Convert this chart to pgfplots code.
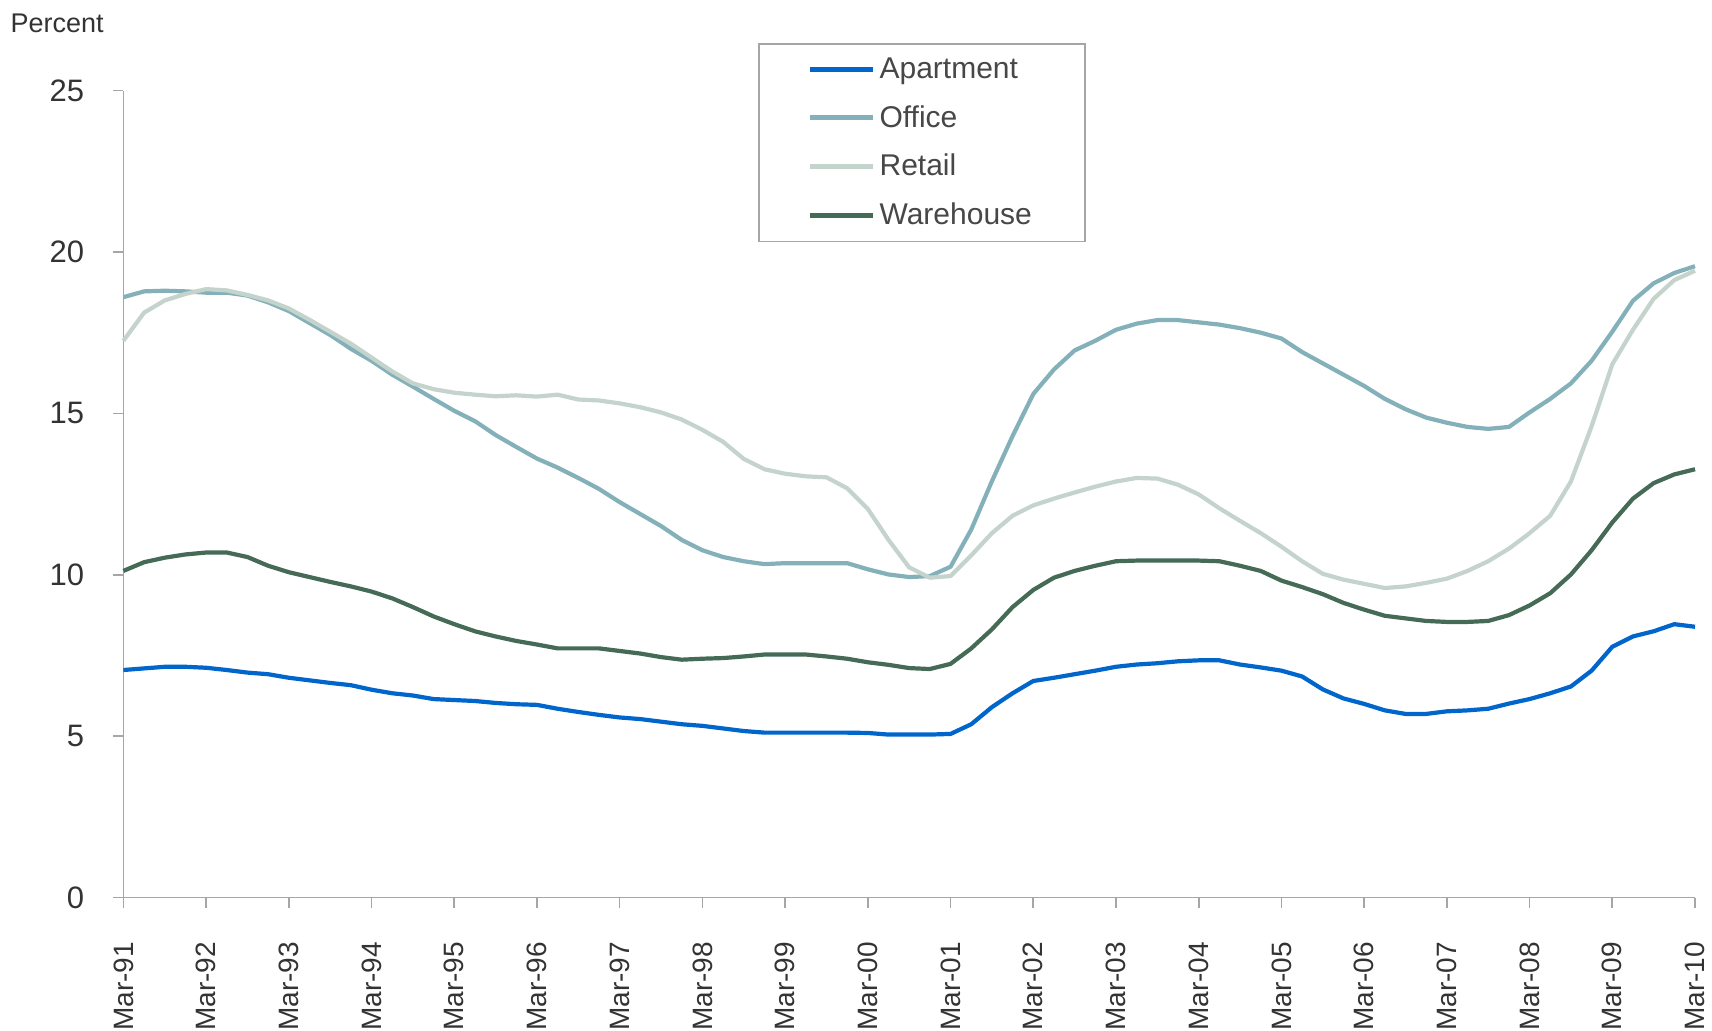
\documentclass[border=0pt]{standalone}
\usepackage{pgfplots}
\pgfplotsset{compat=1.18}
\usepackage{fontspec}
\setmainfont{Liberation Sans}
\newfontfamily\xlabfont{Liberation Sans}
\definecolor{cApt}{HTML}{0066CC}
\definecolor{cOff}{HTML}{84B1B9}
\definecolor{cRet}{HTML}{C5D3CD}
\definecolor{cWar}{HTML}{456A56}
\definecolor{axgray}{HTML}{A6A6A6}
\definecolor{txt}{HTML}{333333}

\pgfplotstableread{
q Apt Off Ret War
0 7.05 18.60 17.25 10.12
1 7.10 18.78 18.12 10.39
2 7.15 18.80 18.50 10.53
3 7.15 18.78 18.70 10.63
4 7.12 18.74 18.85 10.69
5 7.05 18.74 18.81 10.69
6 6.97 18.65 18.67 10.55
7 6.92 18.44 18.50 10.28
8 6.81 18.17 18.25 10.08
9 6.73 17.80 17.90 9.93
10 6.65 17.43 17.53 9.78
11 6.58 17.00 17.16 9.64
12 6.44 16.63 16.73 9.48
13 6.33 16.20 16.30 9.27
14 6.26 15.83 15.93 9.00
15 6.15 15.45 15.75 8.71
16 6.12 15.08 15.64 8.47
17 6.09 14.76 15.58 8.25
18 6.03 14.33 15.53 8.09
19 5.99 13.96 15.56 7.95
20 5.97 13.60 15.52 7.84
21 5.85 13.32 15.58 7.72
22 5.75 13.00 15.43 7.72
23 5.66 12.66 15.40 7.72
24 5.58 12.25 15.31 7.64
25 5.53 11.88 15.19 7.56
26 5.45 11.51 15.03 7.45
27 5.37 11.08 14.81 7.37
28 5.32 10.76 14.49 7.40
29 5.24 10.55 14.12 7.42
30 5.16 10.42 13.59 7.47
31 5.11 10.33 13.27 7.53
32 5.11 10.36 13.13 7.53
33 5.11 10.36 13.05 7.53
34 5.11 10.36 13.02 7.47
35 5.11 10.36 12.68 7.40
36 5.10 10.17 12.04 7.29
37 5.05 10.01 11.08 7.21
38 5.05 9.93 10.23 7.11
39 5.05 9.96 9.91 7.08
40 5.07 10.25 9.96 7.24
41 5.37 11.40 10.60 7.72
42 5.90 12.90 11.29 8.31
43 6.33 14.30 11.83 9.00
44 6.71 15.60 12.15 9.53
45 6.81 16.36 12.36 9.91
46 6.92 16.95 12.55 10.12
47 7.03 17.25 12.73 10.28
48 7.15 17.59 12.89 10.42
49 7.22 17.78 13.00 10.44
50 7.26 17.89 12.98 10.44
51 7.32 17.89 12.79 10.44
52 7.35 17.82 12.49 10.44
53 7.35 17.75 12.06 10.42
54 7.22 17.64 11.67 10.28
55 7.13 17.50 11.29 10.12
56 7.03 17.32 10.87 9.82
57 6.85 16.90 10.42 9.62
58 6.45 16.55 10.03 9.40
59 6.17 16.20 9.85 9.13
60 6.00 15.85 9.72 8.92
61 5.80 15.45 9.59 8.73
62 5.69 15.13 9.64 8.65
63 5.69 14.87 9.75 8.57
64 5.77 14.71 9.88 8.54
65 5.80 14.58 10.12 8.54
66 5.85 14.52 10.42 8.57
67 6.01 14.58 10.81 8.75
68 6.15 15.03 11.29 9.05
69 6.33 15.45 11.83 9.43
70 6.54 15.93 12.89 10.01
71 7.03 16.63 14.60 10.76
72 7.77 17.53 16.52 11.62
73 8.09 18.49 17.59 12.36
74 8.25 19.03 18.55 12.84
75 8.47 19.35 19.13 13.11
76 8.39 19.56 19.42 13.27
}\datatable

\begin{document}
\begin{tikzpicture}
\useasboundingbox (-61.7pt,-66.7pt) rectangle (794.3pt,448.8pt);
\begin{axis}[
  at={(0pt,0pt)}, anchor=south west,
  scale only axis, width=785.8pt, height=403.5pt,
  xmin=0, xmax=76, ymin=0, ymax=25,
  axis x line=bottom, axis y line=left,
  axis line style={axgray, line width=0.8pt, -},
  tick style={axgray, line width=0.8pt},
  tick align=outside, major tick length=5pt,
  xtick={0,4,...,76},
  xticklabels={Mar-91,Mar-92,Mar-93,Mar-94,Mar-95,Mar-96,Mar-97,Mar-98,Mar-99,Mar-00,Mar-01,Mar-02,Mar-03,Mar-04,Mar-05,Mar-06,Mar-07,Mar-08,Mar-09,Mar-10},
  xticklabel style={rotate=90, anchor=east, inner sep=0pt, font=\xlabfont\fontsize{14}{16}\selectfont, text=txt},
  xticklabel shift=17pt,
  ytick={0,5,...,25},
  yticklabel style={inner sep=0pt, font=\fontsize{15.5}{18}\selectfont, text=txt},
  yticklabel shift=14.4pt,
  /pgf/number format/assume math mode=true,
  clip=false,
  legend style={at={(axis description cs:0.4038,1.059)}, anchor=north west,
    draw=axgray, line width=0.8pt, inner xsep=24.5pt, inner ysep=5pt,
    row sep=8pt, font=\fontsize{15}{17}\selectfont, text=txt!90!white},
  legend cell align=left,
  legend image code/.code={\draw[#1, line width=2.4pt] (0pt,0pt) -- (31.5pt,0pt);},
]
\addplot[cApt, line width=2.1pt, line join=round] table[x=q, y=Apt] {\datatable};
\addlegendentry{Apartment}
\addplot[cOff, line width=2.1pt, line join=round] table[x=q, y=Off] {\datatable};
\addlegendentry{Office}
\addplot[cRet, line width=2.1pt, line join=round] table[x=q, y=Ret] {\datatable};
\addlegendentry{Retail}
\addplot[cWar, line width=2.1pt, line join=round] table[x=q, y=War] {\datatable};
\addlegendentry{Warehouse}
\end{axis}
\node[anchor=base west, font=\fontsize{13.5}{16}\selectfont, text=txt] at (-59.9pt,432.7pt) {Percent};
\end{tikzpicture}
\end{document}
